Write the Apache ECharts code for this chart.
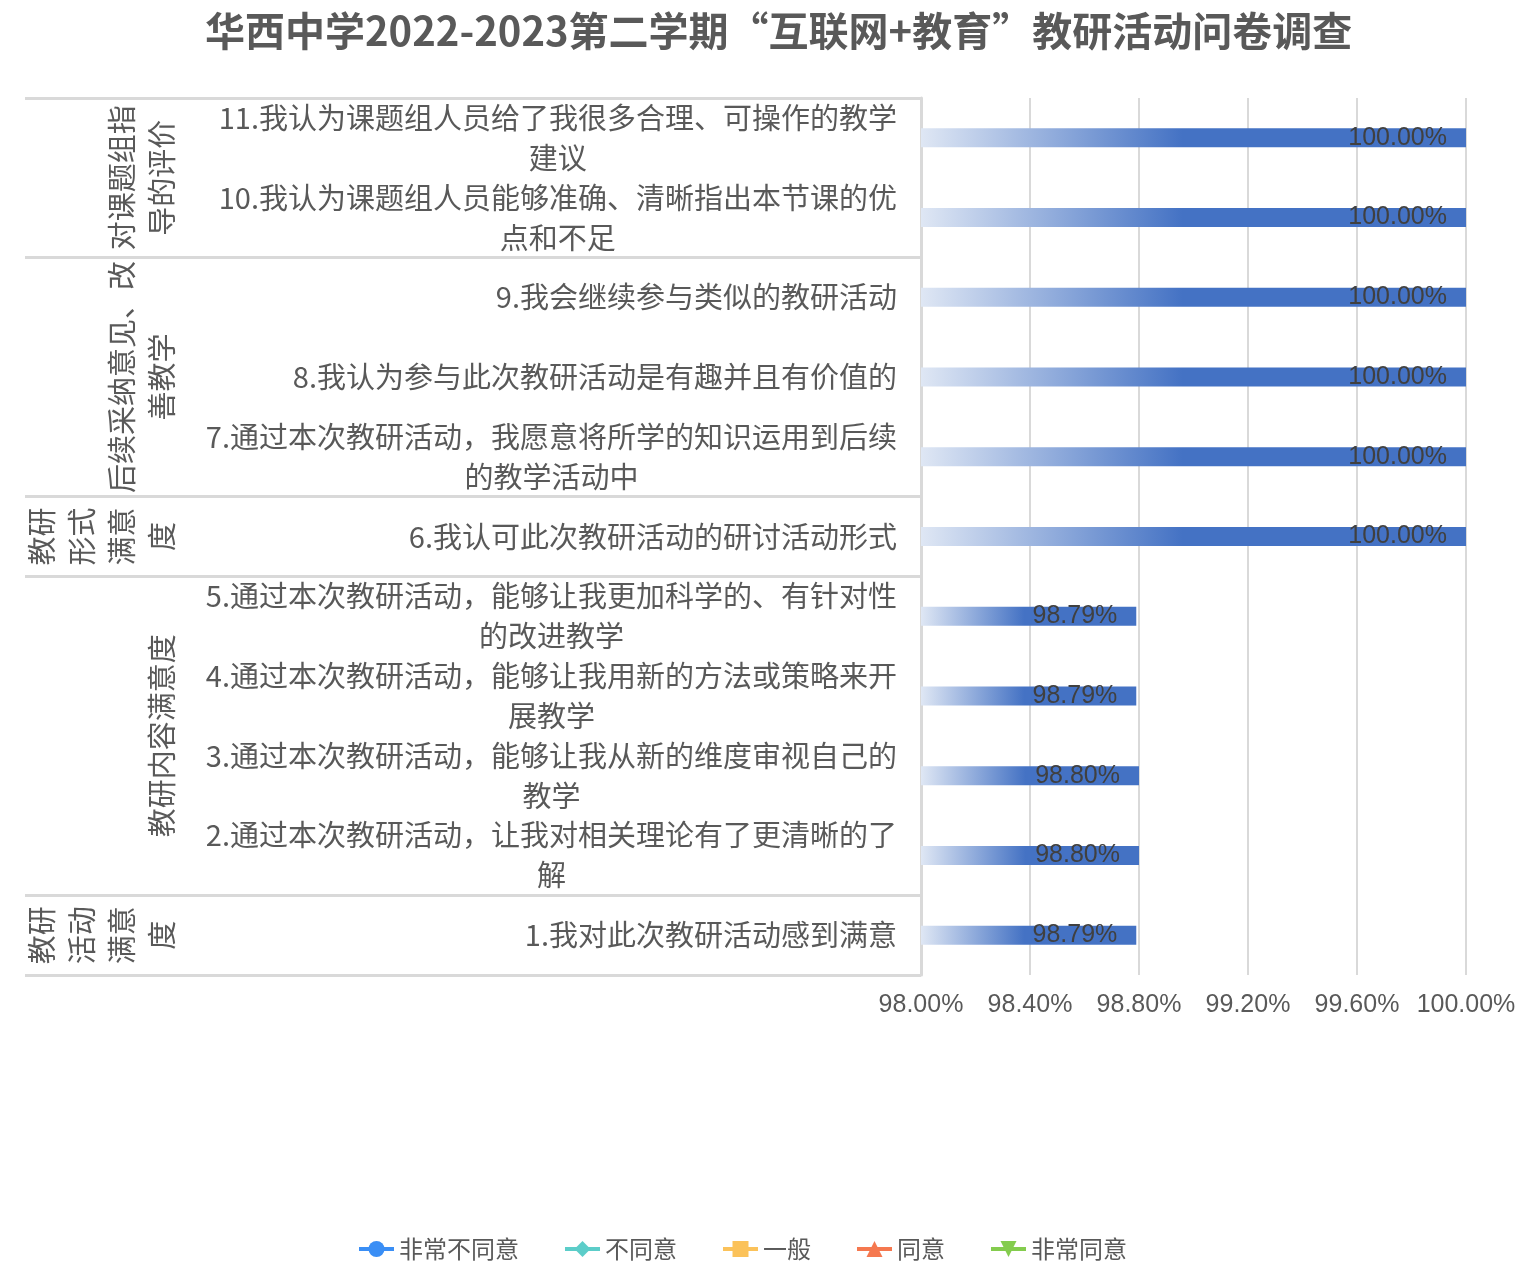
<!DOCTYPE html>
<html>
<head>
<meta charset="utf-8">
<script src="https://cdn.jsdelivr.net/npm/echarts@6/dist/echarts.min.js"></script>
<style>
  html, body { margin: 0; padding: 0; background: #fff; }
  #main { width: 1534px; height: 1270px; }
</style>
</head>
<body>
<div id="main"></div>
<script>
var chart = echarts.init(document.getElementById('main'));

// questions, bottom to top (index 0 = item 1)
var questions = [
    '1.我对此次教研活动感到满意',
    '2.通过本次教研活动，让我对相关理论有了更清晰的了\n解',
    '3.通过本次教研活动，能够让我从新的维度审视自己的\n教学',
    '4.通过本次教研活动，能够让我用新的方法或策略来开\n展教学',
    '5.通过本次教研活动，能够让我更加科学的、有针对性\n的改进教学',
    '6.我认可此次教研活动的研讨活动形式',
    '7.通过本次教研活动，我愿意将所学的知识运用到后续\n的教学活动中',
    '8.我认为参与此次教研活动是有趣并且有价值的',
    '9.我会继续参与类似的教研活动',
    '10.我认为课题组人员能够准确、清晰指出本节课的优\n点和不足',
    '11.我认为课题组人员给了我很多合理、可操作的教学\n建议'
];
var rates = [98.79, 98.80, 98.80, 98.79, 98.79, 100, 100, 100, 100, 100, 100];

// dimension groups: first question index and how many questions
var groupNames = ['教研\n活动\n满意\n度', '教研内容满意度', '教研\n形式\n满意\n度', '后续采纳意见、改\n善教学', '对课题组指\n导的评价'];
var groupStart = [0, 1, 5, 6, 9];
var groupSize = [1, 4, 1, 3, 2];

var legendNames = ['非常不同意', '不同意', '一般', '同意', '非常同意'];
var legendColors = ['#3a8ef5', '#5ccdc9', '#fbc25a', '#f5784f', '#84cc4e'];
var legendSymbols = ['circle', 'diamond', 'rect', 'triangle', 'path://M0,0 L10,0 L5,9 Z'];

var xTicks = { min: 98, max: 100, step: 0.4 };

var font = 'Noto Sans CJK SC';
var grey = '#595959';

// group label sits at the middle of its band range on a 0..n value scale
var groupAt = {};
groupNames.forEach(function (g, i) {
    groupAt[(groupStart[i] + groupSize[i] / 2).toFixed(1)] = g;
});

var series = [{
    type: 'bar',
    name: '比例',
    data: rates,
    barWidth: 19,
    itemStyle: {
        color: new echarts.graphic.LinearGradient(0, 0, 1, 0, [
            { offset: 0, color: '#dfe7f4' },
            { offset: 0.48, color: '#4472c4' },
            { offset: 1, color: '#4472c4' }
        ])
    },
    label: {
        show: true,
        position: 'insideRight',
        distance: 19,
        color: '#404040',
        fontSize: 25,
        fontFamily: 'Liberation Sans',
        formatter: function (p) { return p.value.toFixed(2) + '%'; }
    }
}];
legendNames.forEach(function (n, i) {
    series.push({
        type: 'line',
        name: n,
        data: [],
        symbol: legendSymbols[i],
        symbolSize: 16,
        color: legendColors[i],
        lineStyle: { width: 4 }
    });
});

chart.setOption({
    backgroundColor: '#fff',
    animation: false,
    title: {
        text: '华西中学2022-2023第二学期“互联网+教育”教研活动问卷调查',
        left: 200,
        top: 6,
        textStyle: { fontSize: 40, fontWeight: 'bold', color: grey, fontFamily: font }
    },
    legend: {
        data: legendNames,
        left: 352,
        top: 1232,
        itemWidth: 35,
        itemHeight: 20,
        itemGap: 44,
        lineStyle: { width: 4 },
        textStyle: { fontSize: 24, color: grey, fontFamily: font }
    },
    grid: { left: 921, right: 68, top: 98, bottom: 295 },
    xAxis: {
        type: 'value',
        min: xTicks.min,
        max: xTicks.max,
        interval: xTicks.step,
        axisLine: { show: false },
        axisTick: { show: false },
        axisLabel: {
            margin: 18,
            fontSize: 25,
            color: grey,
            fontFamily: 'Liberation Sans',
            formatter: function (v) { return v.toFixed(2) + '%'; }
        },
        splitLine: { lineStyle: { color: '#d9d9d9', width: 2 } }
    },
    yAxis: [{
        type: 'category',
        data: questions,
        axisLine: { lineStyle: { color: '#d9d9d9', width: 3 } },
        axisTick: {
            show: true,
            length: 896,
            alignWithLabel: false,
            interval: function (idx) { return groupStart.indexOf(idx) >= 0; },
            lineStyle: { color: '#d9d9d9', width: 3 }
        },
        axisLabel: {
            interval: 0,
            margin: 24,
            formatter: function (v) {
                return v.split('\n').map(function (l) { return '{c|' + l + '}'; }).join('\n');
            },
            rich: {
                c: { align: 'center', fontSize: 29, lineHeight: 40, color: grey, fontFamily: font }
            }
        }
    }, {
        type: 'value',
        position: 'left',
        offset: 731,
        min: 0,
        max: questions.length,
        interval: 0.5,
        axisLine: { show: false },
        axisTick: { show: false },
        splitLine: { show: false },
        axisLabel: {
            rotate: 90,
            margin: 8,
            fontSize: 29,
            lineHeight: 40,
            color: grey,
            fontFamily: font,
            formatter: function (v) { return groupAt[v.toFixed(1)] || ''; }
        }
    }],
    series: series
});
</script>
</body>
</html>
